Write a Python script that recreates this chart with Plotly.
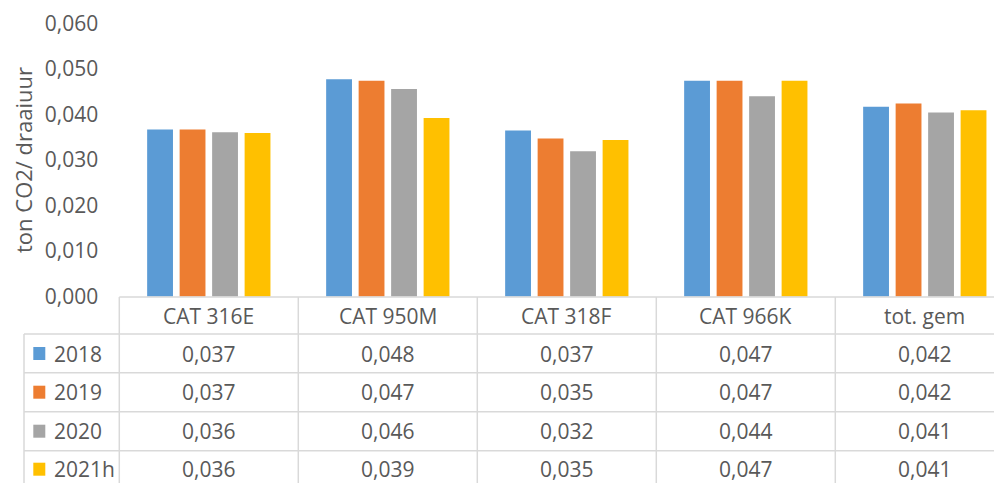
import plotly.graph_objects as go

# ---------------- data ----------------
categories = ["CAT 316E", "CAT 950M", "CAT 318F", "CAT 966K", "tot. gem"]
series_names = ["2018", "2019", "2020", "2021h"]
values_2018 = [0.0367, 0.0477, 0.0365, 0.0474, 0.0417]
values_2019 = [0.0367, 0.0474, 0.0347, 0.0474, 0.0424]
values_2020 = [0.0361, 0.0456, 0.0319, 0.0440, 0.0404]
values_2021h = [0.0359, 0.0392, 0.0344, 0.0474, 0.0409]
labels_2018 = ["0,037", "0,048", "0,037", "0,047", "0,042"]
labels_2019 = ["0,037", "0,047", "0,035", "0,047", "0,042"]
labels_2020 = ["0,036", "0,046", "0,032", "0,044", "0,041"]
labels_2021h = ["0,036", "0,039", "0,035", "0,047", "0,041"]
y_tick_values = [0, 0.01, 0.02, 0.03, 0.04, 0.05, 0.06]
y_title = "ton CO2/ draaiuur"

series_values = [values_2018, values_2019, values_2020, values_2021h]
series_labels = [labels_2018, labels_2019, labels_2020, labels_2021h]
colors = ["#5B9BD5", "#ED7D31", "#A5A5A5", "#FFC000"]

# ---------------- layout constants (window pixels) ----------------
WIN_W, WIN_H = 1002, 483
OFF = 8  # page body margin
W, H = WIN_W - OFF, WIN_H - OFF
plot_left, plot_top, plot_bottom = 119.3, 23.3, 296.7
cat_w = 179.0
legend_left = 24.0
row_lines = [297.0, 334.0, 372.7, 411.7, 450.7]
row_h = 39.0
FONT = "Open Sans"
TXT = "#595959"
LINE = "#D9D9D9"


def px(x):
    return (x - OFF) / W


def py(y):
    return 1 - (y - OFF) / H


fig = go.Figure()
for name, vals, col in zip(series_names, series_values, colors):
    fig.add_trace(go.Bar(name=name, x=categories, y=vals, marker=dict(color=col, line=dict(width=0))))

x_right = -0.5 + (WIN_W - plot_left) / cat_w

shapes = []
shapes.append(dict(type="line", xref="paper", yref="paper", x0=px(plot_left), x1=1,
                   y0=py(row_lines[0]), y1=py(row_lines[0]), line=dict(color=LINE, width=1.5)))
for yl in row_lines[1:]:
    shapes.append(dict(type="line", xref="paper", yref="paper", x0=px(legend_left), x1=1,
                       y0=py(yl), y1=py(yl), line=dict(color=LINE, width=1.5)))
shapes.append(dict(type="line", xref="paper", yref="paper", x0=px(plot_left), x1=px(plot_left),
                   y0=py(row_lines[0]), y1=0, line=dict(color=LINE, width=1.5)))
shapes.append(dict(type="line", xref="paper", yref="paper", x0=px(legend_left), x1=px(legend_left),
                   y0=py(row_lines[1]), y1=0, line=dict(color=LINE, width=1.5)))
for i in range(len(categories) - 1):
    shapes.append(dict(type="line", xref="x", yref="paper", x0=i + 0.5, x1=i + 0.5,
                       y0=py(row_lines[0]), y1=0, line=dict(color=LINE, width=1.5)))

annotations = []
header_c = (row_lines[0] + row_lines[1]) / 2
for c in categories:
    annotations.append(dict(x=c, xref="x", y=py(header_c), yref="paper", text=c, showarrow=False,
                            font=dict(family=FONT, size=21, color=TXT), xanchor="center", yanchor="middle"))
for r, (name, labs, col) in enumerate(zip(series_names, series_labels, colors)):
    yc = row_lines[r + 1] + row_h / 2
    if r == len(series_names) - 1:
        yc = row_lines[r + 1] + 18.5
    shapes.append(dict(type="rect", xref="paper", yref="paper", x0=px(33.3), x1=px(45.3),
                       y0=py(yc - 6.5), y1=py(yc + 6.5), fillcolor=col, line=dict(width=0)))
    annotations.append(dict(x=px(52), xref="paper", y=py(yc), yref="paper", text=name, showarrow=False,
                            font=dict(family=FONT, size=21, color=TXT), xanchor="left", yanchor="middle"))
    for c, lab in zip(categories, labs):
        annotations.append(dict(x=c, xref="x", y=py(yc), yref="paper", text=lab, showarrow=False,
                                font=dict(family=FONT, size=21, color=TXT), xanchor="center", yanchor="middle"))
annotations.append(dict(x=px(23), xref="paper", y=py((plot_top + plot_bottom) / 2), yref="paper",
                        text=y_title, textangle=-90, showarrow=False,
                        font=dict(family=FONT, size=22, color=TXT), xanchor="center", yanchor="middle"))

fig.update_layout(
    width=W, height=H,
    margin=dict(l=0, r=0, t=0, b=0, pad=0),
    paper_bgcolor="white", plot_bgcolor="white",
    separators=",.",
    barmode="group", bargap=0.274, bargroupgap=0.205,
    showlegend=False,
    font=dict(family=FONT, color=TXT),
    xaxis=dict(domain=[px(plot_left), 1], range=[-0.5, x_right - (WIN_W - (OFF + W)) / cat_w],
               showticklabels=False, automargin=False,
               showgrid=False, zeroline=False, showline=False, ticks=""),
    yaxis=dict(domain=[py(plot_bottom), py(plot_top)], range=[0, 0.06], tickvals=y_tick_values,
               automargin=False,
               tickformat=".3f", showgrid=False, zeroline=False, showline=False,
               tickfont=dict(family=FONT, size=21, color=TXT), ticklabelstandoff=20),
    shapes=shapes,
    annotations=annotations,
)

fig.write_html("out.html")
